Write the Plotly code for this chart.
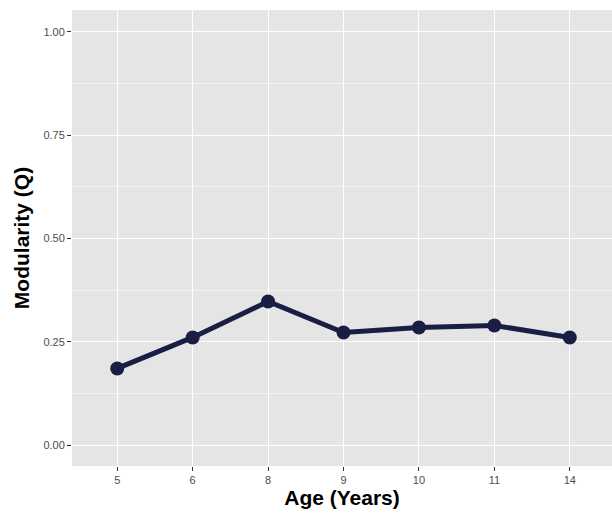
import plotly.graph_objects as go

ages = ["5", "6", "8", "9", "10", "11", "14"]
modularity = [0.186, 0.261, 0.348, 0.273, 0.285, 0.290, 0.261]

fig = go.Figure()
fig.add_trace(go.Scatter(
    x=ages, y=modularity, mode="lines+markers",
    line=dict(color="#1b1e44", width=5),
    marker=dict(color="#1b1e44", size=14),
))

fig.update_layout(
    width=612, height=513,
    margin=dict(l=72, r=0, t=10, b=47, autoexpand=False),
    plot_bgcolor="#e5e5e5", paper_bgcolor="white",
    showlegend=False,
    font=dict(family="Liberation Sans, Arial", color="#4d4d4d", size=11),
)
fig.update_xaxes(
    type="category", range=[-0.6, 6.56], automargin=False,
    showgrid=True, gridcolor="white", gridwidth=1.2,
    ticks="outside", ticklen=4, tickcolor="#333333",
    tickfont=dict(size=11, color="#4d4d4d"),
    title=dict(text="<b>Age (Years)</b>", font=dict(size=21, color="black"), standoff=4),
    zeroline=False,
)
fig.update_yaxes(
    range=[-0.05, 1.053], automargin=False,
    tickvals=[0, 0.25, 0.5, 0.75, 1.0],
    ticktext=["0.00", "0.25", "0.50", "0.75", "1.00"],
    minor=dict(tickvals=[0.125, 0.375, 0.625, 0.875], showgrid=True, gridcolor="#f2f2f2", gridwidth=0.6),
    showgrid=True, gridcolor="white", gridwidth=1.2,
    ticks="outside", ticklen=4, tickcolor="#333333",
    tickfont=dict(size=11, color="#4d4d4d"),
    title=dict(text="<b>Modularity (Q)</b>", font=dict(size=21, color="black"), standoff=8),
    zeroline=False,
)

# page margin off so the chart fills the window
fig.write_html("out.html", config={"displayModeBar": False},
               post_script="document.body.style.margin='0';document.body.style.overflow='hidden';")
